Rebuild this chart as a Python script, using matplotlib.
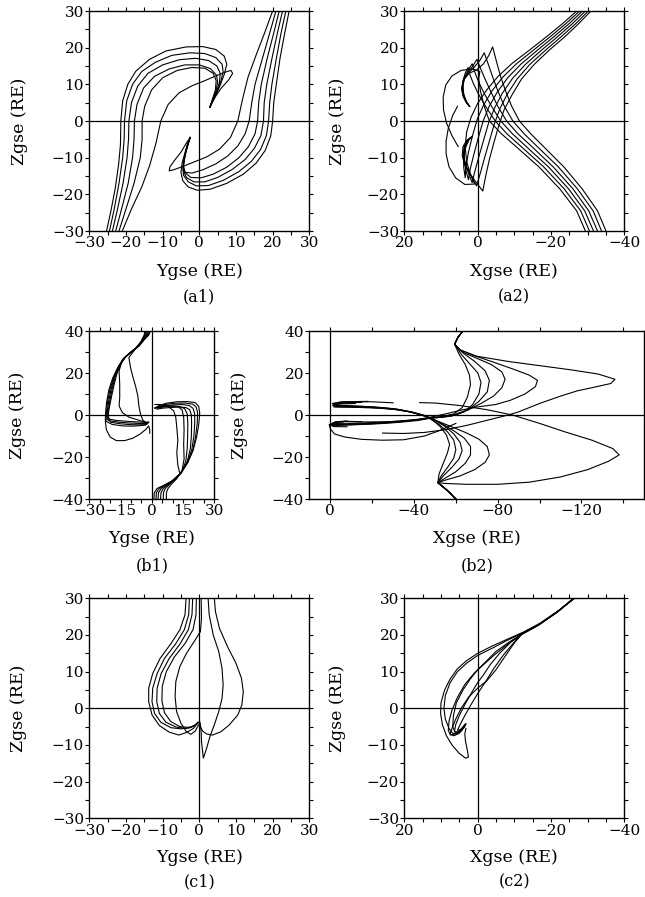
import numpy as np
import matplotlib
matplotlib.use("Agg")
import matplotlib.pyplot as plt
from matplotlib.ticker import MultipleLocator

plt.rcParams["font.family"] = ["DejaVu Serif"]
plt.rcParams["font.size"] = 10

# ---------------- field line traces (Y/X, Z) in RE ----------------
# (a1) Ygse-Zgse
a1_lines = [
    [(-25.3, -30), (-24.1, -24.5), (-22.9, -18.2), (-22.0, -11.8), (-21.5, -6.4), (-21.4, 0), (-20.9, 5.5),
     (-19.5, 10), (-17.3, 13.6), (-13.6, 16.8), (-9.1, 19.1), (-3.6, 20.2), (0.9, 20.3), (4.5, 19.5),
     (6.8, 17.7), (7.5, 15.5), (6.8, 12.7), (5.6, 9.5), (4.4, 6.8), (2.9, 3.8)],
    [(-24.5, -30), (-23.2, -24), (-21.9, -17), (-20.9, -10), (-20.5, -5), (-20.4, 0), (-19.8, 5.5),
     (-18.2, 10), (-15.7, 13.5), (-12, 16), (-7.5, 17.9), (-2.5, 18.6), (1.5, 18.4), (4.5, 17.3),
     (6.2, 15.5), (6.5, 13.5), (5.8, 10.5), (4.8, 8), (3.8, 6), (2.9, 3.8)],
    [(-23.7, -30), (-22.3, -24), (-20.8, -17), (-19.7, -10), (-19.3, -5), (-19.2, 0), (-18.5, 5),
     (-16.8, 9.5), (-14, 13), (-10, 15.3), (-5.5, 16.7), (-1, 17.1), (2.5, 16.5), (4.8, 15),
     (5.7, 13), (5.5, 10.5), (4.7, 8), (3.8, 6), (2.9, 3.8)],
    [(-22.8, -30), (-21.2, -24), (-19.4, -17), (-18.2, -10), (-17.8, -5), (-17.7, 0), (-17, 4.5),
     (-15.2, 9), (-12.2, 12.2), (-8.2, 14.2), (-4, 15.3), (0, 15.3), (3, 14.3), (4.7, 12.5),
     (5, 10.5), (4.5, 8), (3.7, 6), (2.9, 3.8)],
    [(-21.9, -30), (-20, -24), (-17.8, -17), (-16.1, -10), (-15.6, -5), (-15.6, 0), (-14.9, 4),
     (-13, 8.5), (-10, 11.8), (-6, 13.8), (-2, 14.6), (1.5, 14.4), (3.8, 13), (4.6, 11),
     (4.4, 8.5), (3.7, 6.3), (2.9, 3.8)],
    [(-21, -30), (-18.5, -24), (-15.7, -18), (-13.5, -12), (-11.8, -6), (-10.5, 0), (-8.5, 4.5),
     (-5.5, 7.7), (-2, 9.6), (1.5, 11), (4.5, 12.3), (7, 13.3), (8.6, 13.8), (9.1, 13), (8, 11.2),
     (6, 9), (4.3, 6.5), (2.9, 3.8)],
    [(24.5, 30), (23.3, 24), (22, 17), (21, 10), (20.3, 5), (20, 0), (19.5, -4), (18, -8),
     (15.5, -11.5), (12, -14.5), (7.5, -17), (3, -18.6), (-0.5, -18.9), (-3, -18), (-4.5, -16.3),
     (-5, -14), (-4.7, -11.5), (-4, -9), (-3.3, -6.5), (-2.5, -4.5)],
    [(23.6, 30), (22.3, 24), (21, 17), (19.8, 10), (19.2, 5), (18.9, 0), (18.3, -4), (16.7, -7.8),
     (14.2, -11), (10.8, -13.8), (6.5, -16.2), (2.5, -17.6), (-0.8, -17.7), (-3, -16.6),
     (-4.3, -14.8), (-4.5, -12.5), (-4, -9.5), (-3.2, -6.5), (-2.5, -4.5)],
    [(22.7, 30), (21.3, 24), (19.8, 17), (18.4, 10), (17.7, 5), (17.5, 0), (16.8, -4), (15, -7.5),
     (12.5, -10.5), (9, -13.2), (5, -15.4), (1.5, -16.6), (-1.5, -16.6), (-3.5, -15.4),
     (-4.4, -13.5), (-4.2, -11), (-3.6, -8.3), (-3, -6.2), (-2.5, -4.5)],
    [(21.8, 30), (20.3, 24), (18.5, 17), (16.9, 10), (16.2, 5), (15.9, 0), (15.2, -3.5), (13.4, -7),
     (10.8, -10), (7.5, -12.6), (3.8, -14.5), (0.5, -15.5), (-2.3, -15.4), (-4, -14), (-4.3, -12),
     (-3.8, -9), (-3.1, -6.5), (-2.5, -4.5)],
    [(20.9, 30), (19.2, 24), (17.2, 17), (15.2, 10), (14.3, 5), (13.6, 0), (12.5, -3.5), (10.5, -6.8),
     (7.8, -9.5), (4.5, -11.7), (1, -13.3), (-2, -14.2), (-3.8, -14), (-4.4, -12.5), (-4, -9.5),
     (-3.2, -6.5), (-2.5, -4.5)],
    [(20, 30), (17.8, 24), (15.5, 18), (13.3, 12), (11.8, 6), (10.5, 0), (8.5, -4.5), (5.5, -7.7),
     (2, -9.8), (-1.5, -11.2), (-4.5, -12.4), (-7, -13.3), (-8.2, -13.6), (-8, -12.5), (-6.8, -10.8),
     (-5, -8.5), (-3.7, -6.3), (-2.5, -4.5)],
]

# (a2) Xgse-Zgse
a2_lines = [
    [(-35, -30), (-32.7, -24.5), (-28.5, -18.5), (-23.5, -12.5), (-18, -7), (-14.5, -3.5), (-11.4, 0),
     (-9.3, 4), (-7.7, 8), (-6.3, 12), (-5.2, 16), (-4.1, 20.2), (-3, 17.8), (-1.6, 15.6), (0.2, 14),
     (2.3, 13), (3.8, 11.3), (4.4, 9), (4, 6.8), (3.1, 5), (2.2, 4)],
    [(-33.8, -30), (-31.5, -24.5), (-27.2, -18.5), (-22, -12.5), (-16.3, -7), (-12.7, -3.5), (-9.6, 0),
     (-7.3, 4), (-5.6, 8), (-4.1, 12), (-2.9, 15.5), (-1.8, 18.6), (-0.6, 16.5), (1, 14.6),
     (2.8, 12.8), (4, 10.8), (4.3, 8.6), (3.8, 6.5), (3, 5), (2.2, 4)],
    [(-32.7, -30), (-30.3, -24.5), (-26, -18.5), (-20.6, -12.5), (-14.8, -7), (-11, -3.5), (-7.9, 0),
     (-5.5, 4), (-3.6, 8), (-2, 11.5), (-0.8, 14.3), (0.2, 16.8), (1.3, 15), (2.6, 13.3), (3.7, 11.3),
     (4.1, 9), (3.8, 6.8), (3, 5), (2.2, 4)],
    [(-31.6, -30), (-29.2, -24.5), (-24.8, -18.5), (-19.3, -12.5), (-13.3, -7), (-9.5, -3.5), (-6.3, 0),
     (-3.8, 4), (-1.8, 7.5), (-0.2, 10.8), (0.8, 13.4), (1.5, 15.6), (2.5, 14), (3.5, 12), (4, 9.8),
     (3.8, 7.3), (3.1, 5.3), (2.2, 4)],
    [(-30.5, -30), (-28.1, -24.5), (-23.6, -18.5), (-18, -12.5), (-11.9, -7), (-8, -3.5), (-4.8, 0),
     (-2.3, 3.8), (-0.3, 7.2), (1.2, 10.3), (2.1, 12.6), (2.6, 14.6), (3.4, 13), (4, 11), (4.1, 8.8),
     (3.7, 6.8), (2.9, 5), (2.2, 4)],
    [(-29.4, -30), (-27, -24.5), (-22.4, -18.5), (-16.7, -12.5), (-10.5, -7), (-6.5, -3.5), (-3.2, 0),
     (-1.8, 4), (-0.8, 8), (-0.3, 11.5), (-0.6, 13.5), (1.5, 14.2), (4.5, 13.8), (7, 12.3),
     (8.7, 9.8), (9.4, 6.5), (9.3, 3), (8.5, -0.5), (7, -4), (5.3, -7)],
    [(-30.9, 30), (-27.5, 26.5), (-23.8, 23), (-19.5, 19.3), (-15.5, 15.5), (-12, 11.5), (-9.3, 7),
     (-7.2, 3), (-5.7, -1.5), (-4.4, -6), (-3.2, -10.5), (-2.2, -15), (-1.4, -19.1), (0.2, -17),
     (2, -14.5), (3.5, -12), (4.2, -9.5), (4, -7), (3, -5.3), (1.6, -4.3)],
    [(-30.2, 30), (-26.7, 26.5), (-22.8, 23), (-18.5, 19.3), (-14.3, 15.5), (-10.8, 11.5), (-8, 7.2),
     (-6, 3.2), (-4.5, -1), (-3.2, -5.5), (-1.9, -10), (-0.8, -14), (0.3, -17.7), (1.5, -15.5),
     (3, -12.5), (3.9, -9.5), (3.7, -7), (2.8, -5.3), (1.6, -4.3)],
    [(-29.4, 30), (-25.8, 26.5), (-21.8, 23), (-17.4, 19.3), (-13.1, 15.5), (-9.5, 11.6), (-6.7, 7.5),
     (-4.6, 3.5), (-3, -0.5), (-1.7, -5), (-0.4, -9.5), (0.7, -13.5), (1.5, -16.8), (2.4, -14.5),
     (3.5, -11.5), (3.8, -9), (3.5, -6.8), (2.6, -5.2), (1.6, -4.3)],
    [(-28.6, 30), (-24.9, 26.5), (-20.8, 23), (-16.3, 19.3), (-11.9, 15.6), (-8.2, 11.8), (-5.3, 7.8),
     (-3.1, 3.9), (-1.5, 0), (-0.2, -4.5), (1, -9), (2, -13), (2.5, -16), (3.2, -13.5), (3.7, -10.5),
     (3.5, -7.5), (2.5, -5.2), (1.6, -4.3)],
    [(-27.8, 30), (-24, 26.5), (-19.8, 23), (-15.2, 19.3), (-10.7, 15.7), (-6.9, 12), (-3.9, 8.2),
     (-1.6, 4.3), (0.1, 0.5), (1.4, -4), (2.5, -8.5), (3.2, -12.5), (3.4, -15.5), (3.8, -12.5),
     (3.8, -9.5), (3.2, -7), (2.4, -5.2), (1.6, -4.3)],
    [(-27, 30), (-23.1, 26.5), (-18.8, 23), (-14.1, 19.3), (-9.5, 15.8), (-5.6, 12.2), (-2.5, 8.5),
     (0, 4.8), (1.8, 1), (3, -3), (3.4, -7), (3, -11), (2, -14.5), (0.8, -17.2), (3.5, -17.3),
     (6, -15.5), (7.8, -12.5), (8.6, -9), (8.6, -5.5), (8, -2), (6.8, 1.5), (5.5, 4)],
]

# (b1) Ygse-Zgse
b1_lines = [
    [(-0.6, 40), (-1.5, 38), (-3.5, 36), (-6, 33), (-9.5, 30.3), (-12.5, 27.8), (-14.8, 24.5),
     (-16.8, 19.5), (-18.2, 14), (-19.5, 8), (-20.5, 3), (-21, -0.5), (-20.3, -2), (-17, -2.6),
     (-12, -3), (-7, -3.3), (-3.5, -3.5), (-1.5, -3.3)],
    [(-1, 40), (-1.8, 38), (-3.8, 35.8), (-6.3, 32.8), (-9.8, 30), (-12.8, 27.5), (-15.2, 24),
     (-17.3, 19), (-18.8, 13.5), (-20, 7.5), (-20.8, 2.5), (-21.2, -1.3), (-20, -2.8), (-16, -3.4),
     (-11, -3.8), (-6.5, -4), (-3, -4.1), (-1.5, -3.5)],
    [(-1.5, 40), (-2.2, 38), (-4.1, 35.6), (-6.6, 32.6), (-10.1, 29.8), (-13.1, 27.2), (-15.6, 23.5),
     (-17.8, 18.5), (-19.4, 13), (-20.6, 7), (-21.3, 2), (-21.5, -2), (-19.5, -3.5), (-15, -4.2),
     (-10, -4.6), (-6, -4.7), (-3, -4.6), (-1.8, -3.8)],
    [(-2, 40), (-2.6, 38), (-4.4, 35.4), (-6.9, 32.4), (-10.4, 29.6), (-13.4, 27), (-16, 23),
     (-18.3, 18), (-20, 12.5), (-21.2, 6.5), (-21.8, 1.5), (-22, -3), (-19, -4.5), (-14, -5.2),
     (-9, -5.3), (-5, -5), (-2.5, -4.6)],
    [(-2.5, 40), (-3, 38), (-4.7, 35.2), (-7.2, 32.2), (-10.7, 29.4), (-13.7, 26.8), (-16.4, 22.5),
     (-18.8, 17.5), (-20.6, 12), (-21.7, 6), (-22.2, 1), (-22.3, -3), (-21.8, -7), (-20, -10.5),
     (-17, -12.2), (-13, -12.2), (-9, -11), (-5.5, -9), (-2.8, -6.8), (-1.5, -5.2), (-1, -7),
     (-1, -8.7)],
    [(-3, 40), (-3.4, 38), (-5, 35), (-7.5, 32), (-11, 27.3), (-10.2, 22.5), (-9, 17.8), (-7.8, 13.8),
     (-6.7, 9), (-6.2, 4.3), (-5.4, 0.3), (-4.3, -2.5), (-2.2, -4.1)],
    [(-3.3, 40), (-3.7, 38), (-5.3, 34.8), (-7.8, 31.8), (-11.3, 29), (-14.2, 26), (-15.7, 21),
     (-15.4, 14.6), (-15.4, 8.3), (-15.7, 4.3), (-14.1, 1.1), (-11, -1), (-6.2, -2.5), (-2.2, -3.7)],
    [(1, -40), (1.2, -37), (2.5, -35), (5.5, -33.6), (9.5, -31.5), (13.5, -28), (17, -23), (19.8, -17),
     (21.5, -10.5), (22.6, -4), (23, 1), (22.5, 4.2), (20.8, 5.9), (17, 6.4), (12, 6.3), (7, 5.6),
     (3.5, 4.5), (1.5, 3.3)],
    [(2, -40), (2.2, -37), (3.5, -35), (6.3, -33.5), (10, -31.3), (13.8, -27.8), (17.2, -22.8),
     (19.6, -17), (21, -10.5), (21.8, -4), (22, 1), (21.3, 3.8), (19.6, 5.2), (16, 5.7), (11, 5.6),
     (6.5, 5), (3.3, 4), (1.5, 3.3)],
    [(3, -40), (3.2, -37), (4.5, -35), (7, -33.3), (10.5, -31), (14, -27.6), (17.2, -22.5),
     (19.2, -16.5), (20.2, -10), (20.6, -4), (20.6, 0.5), (19.8, 3.2), (18, 4.5), (14.5, 5), (10, 4.8),
     (6, 4.3), (3, 3.6), (1.5, 3.3)],
    [(4.2, -40), (4.4, -37), (5.5, -35), (7.8, -33.2), (11, -30.8), (14.3, -27.4), (17, -22.2),
     (18.5, -16), (19, -10), (19.1, -4), (19, 0), (18.2, 2.5), (16.5, 3.5), (13.5, 3.8), (9.5, 3.6),
     (5.5, 3.3), (2.5, 2.8)],
    [(5.5, -40), (5.6, -37), (6.5, -35), (8.5, -33), (11.5, -30.5), (14.5, -27), (16.3, -22), (17, -16),
     (17.2, -10), (17.3, -4), (17, 0.5), (15.8, 3), (13.5, 4), (10, 4.3), (6, 4), (3, 3.5)],
    [(7, -40), (7, -37), (7.8, -35), (9.5, -32.8), (12, -30.3), (14.5, -26.5), (15.5, -21), (15.3, -14),
     (15.5, -7), (15.3, -1), (14.5, 2.5), (12.5, 4), (9, 4.3), (5, 3.8), (2.5, 3.2)],
    [(13.5, -28), (12.5, -24), (12, -18), (12.5, -12), (12, -6), (11.5, -1), (10.5, 2), (8, 4),
     (4, 5), (1.5, 5)],
]

# (b2) Xgse-Zgse
b2_lines = [
    [(-63.3, 40), (-61, 37), (-59.4, 33.7), (-61.5, 29), (-64.5, 24), (-66.5, 19), (-67, 14.5),
     (-65.5, 8.5), (-63, 3.5), (-59, 0.5), (-53, -0.8), (-47, -1.5), (-42, -2), (-36, -2.6),
     (-28, -3.2), (-20, -3.6), (-12, -4), (-6, -4.2), (-2, -4.4), (-0.8, -4.2), (-2.5, -3.3), (-8, -2.8)],
    [(-63.3, 40), (-61, 37), (-59.4, 33.7), (-62.5, 29), (-66.5, 24.5), (-70.5, 20), (-72, 15.5),
     (-71, 10), (-68, 5), (-64, 1.5), (-58, -0.5), (-52, -1.2), (-47, -1.5), (-42, -2.3), (-35, -3),
     (-27, -3.6), (-19, -4), (-11, -4.3), (-5, -4.5), (-1.5, -4.7), (-0.5, -4.3), (-3, -3.5)],
    [(-63.3, 40), (-61, 37), (-59.4, 33.7), (-63.5, 29.5), (-69, 25.5), (-74, 21), (-76, 16.5),
     (-75, 11), (-71, 6.5), (-66, 2.5), (-60, 0), (-54, -1), (-48, -1.5), (-42, -2.6), (-34, -3.4),
     (-26, -4), (-18, -4.4), (-10, -4.7), (-4, -4.9), (-0.8, -5), (-1.5, -4.2), (-6, -3.8)],
    [(-63.3, 40), (-61, 37), (-59.4, 33.7), (-63, 30), (-70, 27), (-77, 24), (-82, 20.5), (-83.5, 17),
     (-82, 13), (-78, 9), (-72, 5.5), (-66, 2.5), (-60, 0.5), (-54, -0.7), (-48, -1.3), (-42, -2.2),
     (-33, -3), (-24, -3.3), (-15, -3.3), (-7, -3.2), (-2, -3.5), (0, -4.5), (-1.5, -5.5), (-8, -5.6)],
    [(-63.3, 40), (-61, 37), (-59.4, 33.7), (-62, 31), (-68, 28.5), (-77, 25.5), (-87, 22), (-95, 19),
     (-99, 16.5), (-98, 13.5), (-93, 10), (-86, 7), (-79, 5), (-70, 3.8), (-62, 2.2), (-55, 0.5),
     (-48, -1), (-40, -2.5), (-30, -3.5), (-20, -4.2), (-10, -4.6), (-3, -4.8), (-0.5, -4.5),
     (-2, -3.5), (-8, -3), (-15, -3.2)],
    [(-63.3, 40), (-61, 37), (-59.4, 33.7), (-62, 31), (-70, 28), (-85, 25.5), (-100, 23.5),
     (-115, 21.5), (-128, 19.5), (-136, 17), (-134, 15), (-125, 13), (-118, 11.5), (-110, 9),
     (-100, 5.5), (-90, 1.5), (-85, 0), (-75, -2.5), (-65, -5), (-55, -7), (-45, -8.3), (-35, -8.8),
     (-25, -8.6)],
    [(-60, -40), (-56, -36), (-51.4, -32.2), (-52, -28), (-54, -23), (-56, -18), (-57, -14),
     (-55.5, -9.5), (-52.5, -5.5), (-49, -2.5), (-46, -0.5), (-40, 1), (-33, 2.5), (-25, 3.3),
     (-15, 3.8), (-7, 4), (-2.5, 4), (-1.5, 4.8), (-5, 5.6), (-15, 6)],
    [(-60, -40), (-56, -36), (-51.4, -32.2), (-53, -29), (-56, -25), (-59, -20.5), (-60, -16.5),
     (-59, -12), (-56, -8), (-52, -4.5), (-48, -2), (-45, -0.3), (-39, 1.4), (-32, 2.8), (-24, 3.6),
     (-15, 4.1), (-7, 4.4), (-2, 4.5), (-1, 5.5), (-6, 6.3), (-18, 6.5)],
    [(-60, -40), (-56, -36), (-51.4, -32.2), (-54, -29), (-58, -25), (-61.5, -21), (-63, -17),
     (-62, -13), (-59, -9), (-55, -5.5), (-50, -2.5), (-46, -0.5), (-40, 1.2), (-32, 2.5), (-24, 3.2),
     (-14, 3.6), (-6, 3.7), (-1.8, 3.8), (-1.2, 4.6), (-4, 5.2), (-12, 5.5)],
    [(-60, -40), (-56, -36), (-51.4, -32.2), (-55, -30), (-60, -27), (-64.5, -23), (-67, -19),
     (-67, -15), (-64, -11), (-59, -7.5), (-54, -4.5), (-49, -2), (-45, -0.5), (-38, 1.6), (-30, 3),
     (-20, 3.9), (-10, 4.4), (-3, 4.6), (-1.5, 5.4), (-5, 6.2), (-20, 6.3), (-30, 5.8)],
    [(-60, -40), (-56, -36), (-51.4, -32.2), (-55, -31), (-62, -29), (-69, -26), (-74, -22.5),
     (-76, -19), (-75, -15), (-71, -11.5), (-65, -8.5), (-59, -6), (-54, -4), (-49, -2), (-45, -0.5),
     (-38, 1.5), (-30, 2.8), (-20, 3.6), (-10, 4), (-3, 4.3), (-2, 5), (-6, 5.8), (-14, 6)],
    [(-60, -40), (-56, -36), (-51.4, -32.2), (-55, -32.6), (-65, -33), (-80, -33), (-95, -32),
     (-110, -29.5), (-123, -26), (-133, -22), (-138, -19), (-135, -16), (-125, -12), (-112, -8),
     (-100, -4), (-87, 0), (-75, 2.5), (-62, 4.5), (-50, 5.7), (-42.7, 5.9)],
    [(-60, -4), (-52, -7.5), (-45, -10), (-35, -11.8), (-25, -12), (-15, -11.6), (-7, -10.5),
     (-2, -9), (0, -6.5), (0.5, -4.5), (-1, -4)],
]

# (c1) Ygse-Zgse
c1_lines = [
    [(-3.6, 30), (-3.9, 25.5), (-5.3, 21.4), (-7.7, 17.7), (-10.7, 13.6), (-12.7, 9.5), (-13.8, 5.5),
     (-13.8, 1.8), (-12.9, -1.8), (-10.9, -4.7), (-8.2, -6.5), (-5.6, -7.3), (-3.5, -6.6),
     (-1.6, -5.5), (-0.5, -4.1)],
    [(-2.7, 30), (-2.9, 25.5), (-4.1, 21.4), (-6.5, 17.5), (-9.5, 13.6), (-11.5, 9.5), (-12.7, 5.5),
     (-12.9, 1.8), (-12.2, -1.4), (-10.5, -3.8), (-7.7, -5.3), (-5, -5.6), (-2.5, -5.3), (-1.1, -4.5),
     (-0.4, -3.8)],
    [(-1.8, 30), (-2, 25.5), (-3, 21.4), (-5.3, 17.5), (-8.2, 13.6), (-10.4, 9.5), (-11.5, 5.5),
     (-11.6, 1.8), (-10.9, -1.4), (-9.1, -3.8), (-6.4, -5.1), (-3.6, -5.5), (-1.8, -5), (-0.7, -4.3),
     (-0.2, -3.8)],
    [(-0.8, 30), (-0.9, 25.5), (-1.7, 21.5), (-3.8, 17.8), (-6.8, 14), (-9, 10), (-10.1, 6),
     (-10.2, 2), (-9.5, -1.2), (-7.8, -3.6), (-5.3, -5), (-2.8, -5.2), (-1.2, -4.7), (-0.3, -3.9)],
    [(0.5, 30), (0.6, 24.5), (0.3, 20.9), (-1.4, 18.2), (-3.5, 15), (-5.3, 11.4), (-6.4, 7.3),
     (-6.6, 3.2), (-6.2, -0.9), (-5, -4.1), (-3.5, -6.4), (-2.3, -7.1), (-1.1, -6.2), (-0.2, -4.5)],
    [(4.1, 30), (4.4, 26.4), (5.5, 21.8), (7.7, 16.8), (10, 12.3), (11.5, 8.2), (12, 4.5), (11.6, 0.9),
     (10.5, -1.8), (8.2, -4.5), (5.9, -6.4), (3.6, -7.3), (2, -7), (0.9, -6.2), (0.3, -5), (0, -3.8)],
    [(2.4, 30), (2.7, 25.5), (3.8, 20), (5.3, 15.5), (6.2, 10.9), (6.5, 6.4), (6.2, 2.7), (5.3, -0.9),
     (4.1, -4.5), (2.9, -7.7), (2, -10.9), (1.4, -12.7), (1.1, -13.6), (0.9, -11.8), (0.6, -9.1),
     (0.5, -6.4), (0.3, -4.5), (0.1, -3.6)],
]

# (c2) Xgse-Zgse
c2_lines = [
    [(-26.4, 30), (-22, 26.6), (-17, 23.2), (-12.5, 20.8), (-8, 18.8), (-4, 17), (0, 15), (3, 13),
     (5.5, 10.8), (7.5, 8), (9, 5), (10, 1.5), (10.1, -1.5), (9.6, -4.5), (8.5, -7.5), (7, -10),
     (5, -12.3), (3.3, -13.6), (2.5, -13.3), (2.8, -11.5), (3.3, -9), (3.5, -7), (3.2, -5.5)],
    [(-26.4, 30), (-22, 26.5), (-17, 23), (-12.4, 20.6), (-8, 18.5), (-4, 16.4), (0, 14.4),
     (3, 12.3), (5.5, 10), (7.5, 7), (8.8, 3.5), (9.2, 0), (8.8, -3), (7.8, -5.5), (6.8, -6.8),
     (5.5, -7), (4.3, -6), (3.3, -4.5)],
    [(-26.3, 30), (-21.9, 26.5), (-16.9, 23), (-12.3, 20.4), (-8.5, 18), (-5, 15.5), (-2, 12.5),
     (0, 10.5), (2, 8), (4, 5), (5.8, 1.5), (6.6, -2), (6.8, -5), (6.2, -6.5), (5, -6.3), (3.8, -5),
     (3.2, -4.2)],
    [(-26.3, 30), (-21.9, 26.4), (-16.8, 22.9), (-12.2, 20.3), (-9, 18), (-6, 15), (-3.5, 12),
     (-1.5, 9), (0, 7), (1.5, 4.5), (3.5, 1), (5, -2), (6, -4.5), (6.3, -6.3), (5.5, -6.8), (4.2, -5.7),
     (3.2, -4.3)],
    [(-26.2, 30), (-21.8, 26.4), (-16.7, 22.8), (-12, 20.2), (-9.5, 17.5), (-7, 14.5), (-4.5, 11),
     (-2, 7), (0, 4), (1.8, 1), (3.5, -2), (4.8, -4.5), (5.5, -6), (4.6, -5.8), (3.5, -4.4)],
    [(-26.2, 30), (-21.8, 26.3), (-16.6, 22.7), (-12, 20.2), (-10, 17.8), (-7.5, 14.2), (-5, 10.5),
     (-2.5, 7.5), (0, 5.5), (2.5, 3), (4.5, 0), (6, -3), (7, -5.5), (7.5, -7), (6.5, -7.5), (5, -6.8),
     (3.5, -5)],
    [(-26.1, 30), (-21.7, 26.2), (-16.5, 22.6), (-11.8, 20), (-8, 17.3), (-4.5, 14.5), (-1.5, 11.8),
     (1, 9.5), (3.5, 6.5), (5.5, 3), (7, -0.5), (7.8, -3.5), (8, -6), (7.4, -7.3), (6, -7), (4, -5.2)],
]

# ---------------- layout (pixel boxes -> figure fractions) ----------------
W, H = 645, 897


def frame(px_left, px_top, px_w, px_h):
    return [px_left / W, 1 - (px_top + px_h) / H, px_w / W, px_h / H]


fig = plt.figure(figsize=(W / 100, H / 100), dpi=100)

# lines, box (left, top, w, h in px), xlim, ylim, x major/minor, y major/minor,
# x label, panel tag, x-label centre y (px), tag centre y (px), y-label centre x (px)
panels = [
    (a1_lines, (89.3, 11, 220, 220), (-30, 30), (-30, 30), (10, 5), (10, 5), "Ygse (RE)", "(a1)", 271, 297, 20),
    (a2_lines, (404.3, 11, 220, 220), (20, -40), (-30, 30), (20, 5), (10, 5), "Xgse (RE)", "(a2)", 271, 297, 337),
    (b1_lines, (89.3, 331, 125, 168), (-30, 30), (-40, 40), (15, 5), (20, 10), "Ygse (RE)", "(b1)", 538, 566, 18),
    (b2_lines, (309.3, 331, 335, 168), (10, -150), (-40, 40), (40, 20), (20, 10), "Xgse (RE)", "(b2)", 538, 566, 240),
    (c1_lines, (89.3, 598.3, 220, 220), (-30, 30), (-30, 30), (10, 5), (10, 5), "Ygse (RE)", "(c1)", 857, 882, 19),
    (c2_lines, (404.3, 598.3, 220, 220), (20, -40), (-30, 30), (20, 5), (10, 5), "Xgse (RE)", "(c2)", 857, 882, 337),
]

for lines, box, xlim, ylim, xt, yt, xlabel, tag, xl_y, tag_y, yl_x in panels:
    left, top, w, h = box
    ax = fig.add_axes(frame(left, top, w, h))
    ax.axhline(0, color="black", lw=0.9, zorder=1)
    ax.axvline(0, color="black", lw=0.9, zorder=1)
    for pts in lines:
        arr = np.array(pts)
        ax.plot(arr[:, 0], arr[:, 1], color="black", lw=0.8, zorder=2)
    ax.set_xlim(*xlim)
    ax.set_ylim(*ylim)
    ax.xaxis.set_major_locator(MultipleLocator(xt[0]))
    ax.xaxis.set_minor_locator(MultipleLocator(xt[1]))
    ax.yaxis.set_major_locator(MultipleLocator(yt[0]))
    ax.yaxis.set_minor_locator(MultipleLocator(yt[1]))
    ax.tick_params(which="both", direction="out", top=True, right=True,
                   length=3, width=0.8, pad=0.8, labelsize=11)
    for s in ax.spines.values():
        s.set_linewidth(1.0)

    ax.set_xlabel(xlabel, fontsize=12.5)
    ax.xaxis.set_label_coords(0.5, -(xl_y - (top + h)) / h)
    ax.xaxis.label.set_va("center")
    ax.set_ylabel("Zgse (RE)", fontsize=12.5)
    ax.yaxis.set_label_coords((yl_x - left) / w, 0.5)
    ax.yaxis.label.set_va("center")

    fig.text((left + w / 2) / W, 1 - tag_y / H, tag, ha="center", va="center", fontsize=11.5)

fig.savefig("out.png", dpi=100)
